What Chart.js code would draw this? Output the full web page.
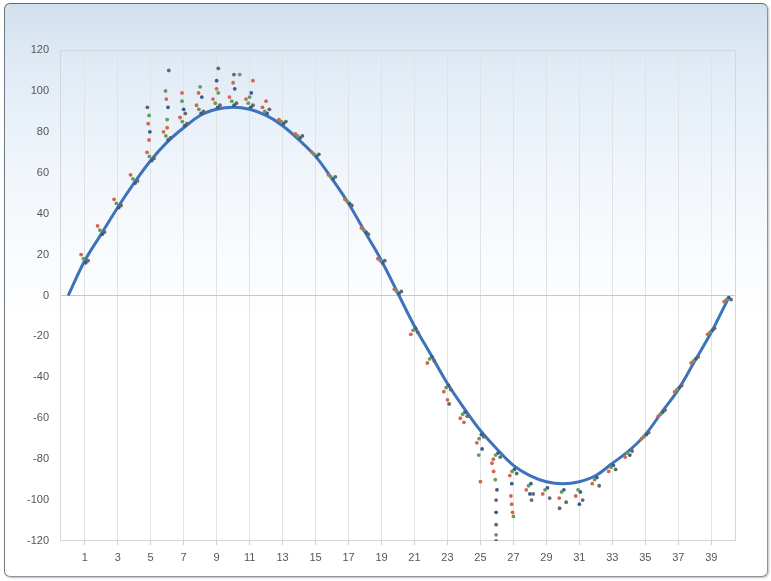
<!DOCTYPE html>
<html>
<head>
<meta charset="utf-8">
<script src="https://cdn.jsdelivr.net/npm/chart.js@4.4.1/dist/chart.umd.min.js"></script>
<style>
  html, body { margin: 0; padding: 0; background: #ffffff; }
  #wrap { position: relative; width: 771px; height: 581px; overflow: hidden; }
  #frame {
    position: absolute; left: 4px; top: 3px; width: 762px; height: 572px;
    border: 1px solid #8a939c; border-top-color: #5f6a75; border-left-color: #6e7883;
    border-radius: 6px;
    background: linear-gradient(to bottom, #d2e0ee 0%, #e2ecf6 12%, #f1f6fb 30%, #ffffff 55%, #ffffff 100%);
    box-shadow: 1px 1px 2px rgba(0,0,0,0.25);
  }
  canvas { position: absolute; left: 0; top: 0; }
</style>
</head>
<body>
<div id="wrap">
  <div id="frame"></div>
  <canvas id="c" width="771" height="581"></canvas>
</div>
<script>
// ---- data ----
const xTickValues = [1,3,5,7,9,11,13,15,17,19,21,23,25,27,29,31,33,35,37,39];
const yTickMin = -120, yTickMax = 120, yTickStep = 20;

const curveX = [0,1,2,3,4,5,6,7,8,9,10,11,12,13,14,15,16,17,18,19,20,21,22,23,24,25,26,27,28,29,30,31,32,33,34,35,36,37,38,39,40];
const curveY = [0,17,30,43,55,66,75,82,88,91,92,91,88,83,76,68,57,45,31,17,1,-15,-29,-43,-55,-66,-75,-83,-88,-91,-92,-91,-88,-82,-76,-68,-57,-46,-32,-18,-2];

const steps = [1,2,3,4,5,6,7,8,9,10,11,12,13,14,15,16,17,18,19,20,21,22,23,24,25,26,27,28,29,30,31,32,33,34,35,36,37,38,39,40];
const redY   = [20,34,47,59,70,80,87,93,96,97,96,92,86,79,70,59,47,33,18,3,-19,-33,-47,-60,-72,-80,-88,-95,-97,-99,-98,-92,-86,-79,-70,-59,-47,-33,-19,-3];
const greenY = [18,32,45,57,68,78,85,91,94,95,94,90,85,78,69,58,46,32,17,2,-17,-31,-45,-58,-70,-78,-86,-93,-95,-96,-95,-90,-84,-77,-69,-58,-46,-32,-18,-2];
const navyY  = [16,30,43,55,66,76,83,89,92,93,92,89,84,77,68,57,45,31,16,1,-16,-30,-44,-57,-68,-77,-85,-92,-94,-95,-96,-89,-83,-78,-68,-57,-45,-31,-17,-1];
const grayY  = [17,31,44,56,67,77,84,90,93,94,93,91,85,78,69,58,44,30,17,2,-18,-32,-46,-59,-69,-79,-87,-97,-99,-101,-100,-93,-85,-76,-67,-56,-44,-30,-16,-2];

const redExtraX   = [4.85,4.9,5.95,6.0,6.9,7.9,9.0,10.0,11.2,12.0,23.0,24.0,25.0,25.7,25.8,26.85,26.9,26.95];
const redExtraY   = [84,76,96,82,99,99,101,104,105,95,-51,-62,-91,-82,-86,-98,-102,-106];
const greenExtraX = [4.9,5.9,6.0,6.9,8.0,9.1,10.4,11.0,24.9,25.9,25.95,27.0];
const greenExtraY = [88,100,86,95,102,99,108,97,-78,-90,-117,-108];
const navyExtraX  = [4.95,6.05,7.0,8.1,9.0,10.1,11.1,25.1,26.0,25.95,26.9,28.0,31.0];
const navyExtraY  = [80,92,91,97,105,101,99,-75,-95,-106,-92,-97,-102];
const grayExtraX  = [4.8,6.1,7.1,9.1,10.05,23.1,25.95,25.95,25.95,28.1,29.8];
const grayExtraY  = [92,110,89,111,108,-53,-100,-112,-120,-100,-104];

// ---- build ----
function series(ys, dodge, exX, exY) {
  const pts = steps.map((s, i) => ({ x: s + dodge, y: ys[i] }));
  return pts.concat(exX.map((x, i) => ({ x: x, y: exY[i] })));
}
function dotSet(label, color, pts) {
  return { type: 'scatter', label, data: pts, backgroundColor: color, borderColor: color,
           pointRadius: 1.9, pointBorderWidth: 0, pointHoverRadius: 1.9 };
}

const plotBorder = {
  id: 'plotBorder',
  beforeDatasetsDraw(chart) {
    const a = chart.chartArea, ctx = chart.ctx;
    ctx.save();
    ctx.strokeStyle = '#d3d6da';
    ctx.lineWidth = 1;
    ctx.strokeRect(Math.round(a.left) + 0.5, Math.round(a.top) + 0.5,
                   Math.round(a.right - a.left) - 1, Math.round(a.bottom - a.top) - 1);
    ctx.restore();
  }
};

new Chart(document.getElementById('c'), {
  data: {
    datasets: [
      dotSet('A', '#d2664f', series(redY, -0.22, redExtraX, redExtraY)),
      dotSet('B', '#5f9e5c', series(greenY, -0.08, greenExtraX, greenExtraY)),
      dotSet('C', '#3b5b90', series(navyY, 0.06, navyExtraX, navyExtraY)),
      dotSet('D', '#676767', series(grayY, 0.2, grayExtraX, grayExtraY)),
      { type: 'line', label: 'fit', data: curveX.map((x, i) => ({ x: x, y: curveY[i] })),
        borderColor: '#3d73ba', borderWidth: 3, pointRadius: 0, tension: 0.4, fill: false }
    ]
  },
  options: {
    responsive: false,
    animation: false,
    layout: { padding: { top: 50, right: 35, left: 0, bottom: 0 } },
    plugins: { legend: { display: false }, tooltip: { enabled: false } },
    scales: {
      x: {
        type: 'linear', min: -0.5, max: 40.5,
        afterBuildTicks: (axis) => { axis.ticks = xTickValues.map(v => ({ value: v })); },
        afterFit: (s) => { s.height = 40; },
        grid: { color: '#e0e2e5', lineWidth: 1, drawTicks: true, tickLength: 4, tickColor: '#d0d0d0' },
        border: { display: false },
        ticks: { color: '#555555', font: { family: 'Liberation Sans, Arial, sans-serif', size: 11 },
                 padding: 6, maxRotation: 0, autoSkip: false }
      },
      y: {
        type: 'linear', min: yTickMin, max: yTickMax,
        afterFit: (s) => { s.width = 60; },
        ticks: { stepSize: yTickStep, color: '#555555', padding: 11,
                 font: { family: 'Liberation Sans, Arial, sans-serif', size: 11 } },
        grid: { drawTicks: false, lineWidth: 1,
                color: (ctx) => (ctx.tick && ctx.tick.value === 0) ? '#c4c7cb' : 'rgba(0,0,0,0)' },
        border: { display: false }
      }
    }
  },
  plugins: [plotBorder]
});
</script>
</body>
</html>
